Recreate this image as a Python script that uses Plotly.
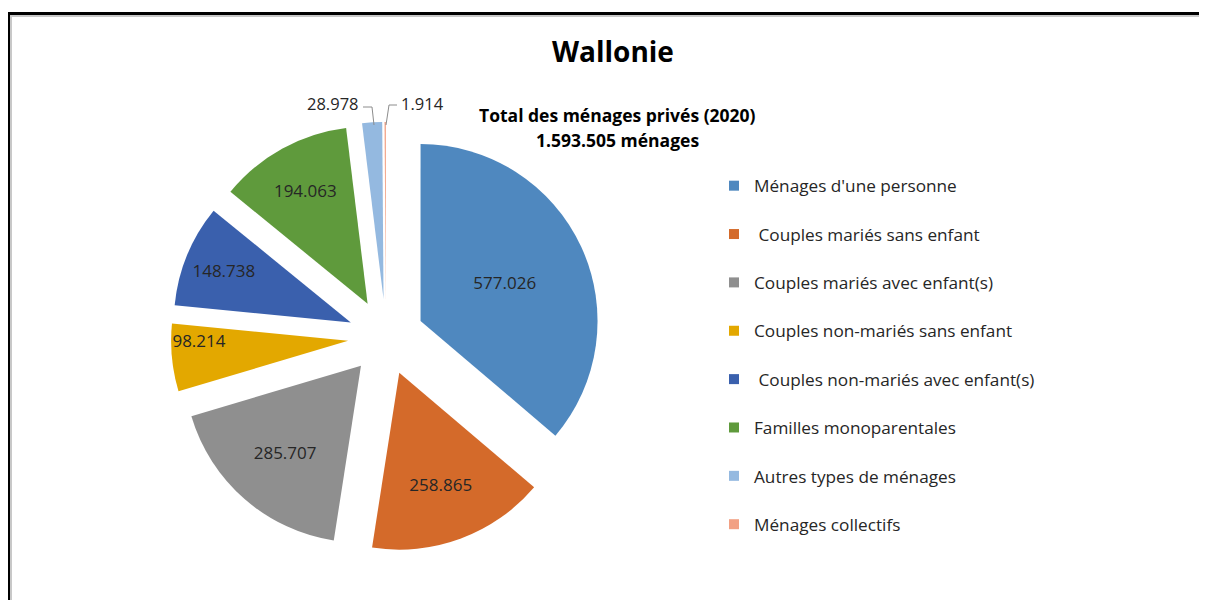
import plotly.graph_objects as go

# ---- data ----
categories = [
    "Ménages d'une personne",
    "\u00a0Couples mariés sans enfant",
    "Couples mariés avec enfant(s)",
    "Couples non-mariés sans enfant",
    "\u00a0Couples non-mariés avec enfant(s)",
    "Familles monoparentales",
    "Autres types de ménages",
    "Ménages collectifs",
]
values = [577026, 258865, 285707, 98214, 148738, 194063, 28978, 1914]
colors = ["#4F88BF", "#D46A2A", "#8F8F8F", "#E3A800", "#3A60AD", "#5F9A3C", "#94B9E0", "#F2A083"]
title_text = "Wallonie"
subtitle_lines = ["Total des ménages privés (2020)", "1.593.505 ménages"]

# page is shown with the browser's default 8px body margin
OFF = 8
W, H = 1207 - OFF, 608 - 2 * OFF
FONT = "Open Sans"
TXT = "#262626"


def fmt(v):
    return f"{v:,}".replace(",", ".")


def px(x):
    """window pixel x -> paper fraction"""
    return (x - OFF) / W


def py(y):
    """window pixel y -> paper fraction"""
    return 1 - (y - OFF) / H


# inside labels for big slices, small slices labelled outside with leader lines
inside_text = [fmt(v) if v > 50000 else "" for v in values]

# pie geometry: centre (386,337) px, radius ~177 px, pull 0.215
pull = 0.215
half = 177 * (1 + pull)
cx, cy = 386, 337

fig = go.Figure()
fig.add_trace(go.Pie(
    labels=categories,
    values=values,
    sort=False,
    direction="clockwise",
    rotation=0,
    pull=[pull] * len(values),
    marker=dict(colors=colors, line=dict(width=0)),
    text=inside_text,
    textinfo="text",
    textposition="inside",
    insidetextorientation="horizontal",
    textfont=dict(family=FONT, size=17, color=TXT),
    hoverinfo="skip",
    showlegend=False,
    domain=dict(x=[px(cx - half), px(cx + half)], y=[py(cy + half), py(cy - half)]),
))

# legend entries (one group per category for spacing)
for lab, col in zip(categories, colors):
    fig.add_trace(go.Scatter(
        x=[None], y=[None], mode="markers", name=lab, legendgroup=lab,
        marker=dict(symbol="square", size=10, color=col),
        showlegend=True, hoverinfo="skip",
    ))

annotations = [
    dict(text=f"<b>{title_text}</b>", x=px(613), y=py(51), xref="paper", yref="paper",
         showarrow=False, font=dict(family=FONT, size=28, color="#000000"),
         xanchor="center", yanchor="middle"),
    dict(text=f"<b>{subtitle_lines[0]}</b>", x=px(617), y=py(115), xref="paper", yref="paper",
         showarrow=False, font=dict(family=FONT, size=17.5, color="#000000"),
         xanchor="center", yanchor="middle"),
    dict(text=f"<b>{subtitle_lines[1]}</b>", x=px(617), y=py(140), xref="paper", yref="paper",
         showarrow=False, font=dict(family=FONT, size=17.5, color="#000000"),
         xanchor="center", yanchor="middle"),
    dict(text=fmt(values[6]), x=px(361), y=py(103), xref="paper", yref="paper",
         showarrow=False, font=dict(family=FONT, size=16.5, color=TXT),
         xanchor="right", yanchor="middle"),
    dict(text=fmt(values[7]), x=px(399), y=py(103), xref="paper", yref="paper",
         showarrow=False, font=dict(family=FONT, size=16.5, color=TXT),
         xanchor="left", yanchor="middle"),
]

leader = dict(color="#8C8C8C", width=1)
shapes = [
    # leader lines for small slices
    dict(type="path", xref="paper", yref="paper", line=leader,
         path=f"M {px(363)} {py(107)} L {px(372)} {py(107)} L {px(374)} {py(125)}"),
    dict(type="path", xref="paper", yref="paper", line=leader,
         path=f"M {px(397)} {py(105)} L {px(389)} {py(105)} L {px(386)} {py(125)}"),
    # frame shadow + frame
    dict(type="line", xref="paper", yref="paper", x0=px(10), x1=px(1230), y0=py(16), y1=py(16),
         line=dict(color="#C8C8C8", width=2)),
    dict(type="line", xref="paper", yref="paper", x0=px(11), x1=px(11), y0=py(15), y1=py(640),
         line=dict(color="#C8C8C8", width=2)),
    dict(type="rect", xref="paper", yref="paper", x0=px(8.5), x1=px(1240), y0=py(650), y1=py(13.5),
         line=dict(color="#000000", width=3)),
]

fig.update_layout(
    width=W, height=H,
    margin=dict(l=0, r=0, t=0, b=0),
    paper_bgcolor="#FFFFFF", plot_bgcolor="#FFFFFF",
    xaxis=dict(visible=False), yaxis=dict(visible=False),
    font=dict(family=FONT, color=TXT),
    showlegend=True,
    legend=dict(
        x=px(714), y=py(168), xanchor="left", yanchor="top",
        font=dict(family=FONT, size=17.2, color=TXT),
        traceorder="grouped", tracegroupgap=23,
        bgcolor="rgba(0,0,0,0)",
    ),
    annotations=annotations,
    shapes=shapes,
)

fig.write_html("out.html")
